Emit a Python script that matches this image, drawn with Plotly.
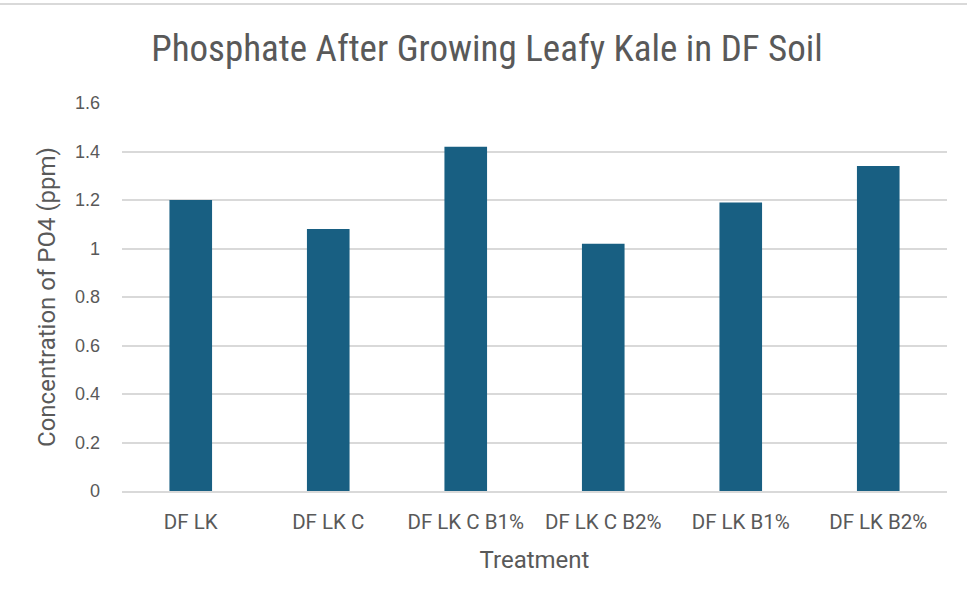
import plotly.graph_objects as go

categories = ["DF LK", "DF LK C", "DF LK C B1%", "DF LK C B2%", "DF LK B1%", "DF LK B2%"]
values = [1.20, 1.08, 1.42, 1.02, 1.19, 1.34]
y_ticks = [0, 0.2, 0.4, 0.6, 0.8, 1, 1.2, 1.4, 1.6]
y_ticklabels = ["0", "0.2", "0.4", "0.6", "0.8", "1", "1.2", "1.4", "1.6"]

fig = go.Figure(go.Bar(x=categories, y=values, marker=dict(color="#185F82", line=dict(width=0))))

W, H = 967, 607
ml, mr, mt, mb = 122, 20, 103, 116
pw, ph = W - ml - mr, H - mt - mb

fig.update_layout(
    width=W, height=H,
    margin=dict(l=ml, r=mr, t=mt, b=mb, pad=0),
    paper_bgcolor="white", plot_bgcolor="white",
    bargap=0.69,
    showlegend=False,
    font=dict(family="Roboto, Liberation Sans, sans-serif", color="#595959", size=20),
    title=dict(text="Phosphate After Growing Leafy Kale in DF Soil",
               x=(487 - ml) / pw, xref="paper", xanchor="center", y=1 - 48 / H, yanchor="middle",
               font=dict(family="Liberation Sans Narrow, Roboto Condensed, Liberation Sans, sans-serif", size=37, color="#595959")),
    xaxis=dict(title=dict(text="Treatment", font=dict(size=24, color="#595959"), standoff=18),
               showline=True, linecolor="#d9d9d9", linewidth=1.5, ticks="", showgrid=False,
               tickfont=dict(family="Roboto, sans-serif", size=20.5, color="#595959"), ticklabelstandoff=12),
    yaxis=dict(title=dict(text="Concentration of PO4 (ppm)", font=dict(size=24, color="#595959"), standoff=12),
               range=[0, 1.6], tickvals=y_ticks, ticktext=y_ticklabels,
               showgrid=True, gridcolor="#d9d9d9", gridwidth=1.5, zeroline=False,
               showline=False, ticks="", tickfont=dict(family="Liberation Sans, Arial, sans-serif", size=18, color="#595959"),
               ticklabelstandoff=21),
    shapes=[dict(type="line", xref="paper", yref="paper", x0=-ml / pw, x1=1 + mr / pw,
                 y0=1 + (mt - 4) / ph, y1=1 + (mt - 4) / ph, line=dict(color="#d9d9d9", width=2))],
)

fig.write_html("out.html", config={"displayModeBar": False},
               post_script="document.body.style.margin='0';document.body.style.overflow='hidden';")
